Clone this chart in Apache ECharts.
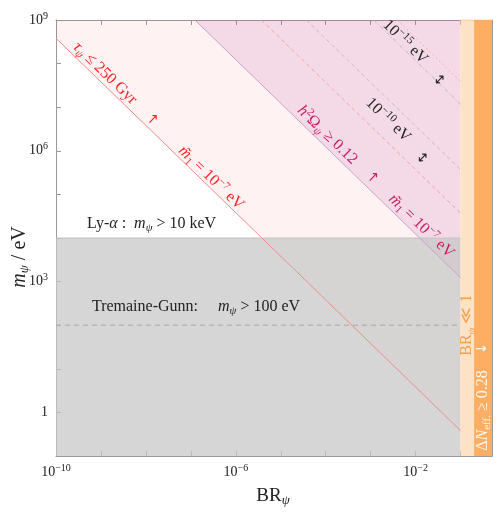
<!DOCTYPE html>
<html>
<head>
<meta charset="utf-8">
<script src="https://cdn.jsdelivr.net/npm/echarts@6/dist/echarts.min.js"></script>
<style>
  html, body { margin: 0; padding: 0; background: #fff; }
  #main { width: 498px; height: 512px; }
</style>
</head>
<body>
<div id="main"></div>
<script>
// boundaries, as [BR_psi, m_psi / eV] end points
const lyAlphaBound = [[1e-10, 1e4], [0.1, 1e4]];
const tremaineGunn = [[1e-10, 100], [0.1, 100]];
const tauBound = [[1e-10, 3.8e8], [0.1, 0.38]];
const relicBound = [[1.23e-7, 1e9], [0.1, 1230]];
const m10RedLine = [[3.7e-6, 1e9], [0.1, 3.7e4]];
const m10PurpleLine = [[3.7e-5, 1e9], [0.1, 3.7e5]];
const m15RedLine = [[3.9e-3, 1e9], [0.1, 3.9e7]];
const m15PurpleLine = [[1.17e-3, 1e9], [0.1, 1.17e7]];
const brSmallBand = [[0.1, 1e9], [0.2, 1e9]];
const nEffBand = [[0.2, 1e9], [0.5, 1e9]];

// axis ticks
const xRange = [1e-10, 0.5];
const yRange = [0.1, 1e9];
const xLabelPowers = [-10, -6, -2];
const yLabelPowers = [0, 3, 6, 9];

const serif = 'Liberation Serif';

const rich = {
  n: { fontFamily: serif, fontSize: 16, lineHeight: 22, verticalAlign: 'middle' },
  i: { fontFamily: serif, fontSize: 16, fontStyle: 'italic', lineHeight: 22, verticalAlign: 'middle' },
  a: { fontFamily: 'DejaVu Sans', fontSize: 14, lineHeight: 22, verticalAlign: 'middle' },
  sup: { fontFamily: serif, fontSize: 11, lineHeight: 11, padding: [0, 0, 9, 0], verticalAlign: 'middle' },
  sub: { fontFamily: serif, fontSize: 11, lineHeight: 11, padding: [9, 0, 0, 0], verticalAlign: 'middle' },
  subi: { fontFamily: serif, fontSize: 11, fontStyle: 'italic', lineHeight: 11, padding: [9, 0, 0, 0], verticalAlign: 'middle' }
};

const tickRich = {
  n: { fontFamily: serif, fontSize: 14, color: '#222', lineHeight: 18 },
  sup: { fontFamily: serif, fontSize: 10, color: '#222', lineHeight: 10, padding: [0, 0, 8, 0] }
};

function powLabel(v, keep) {
  const e = Math.round(Math.log10(v));
  if (keep.indexOf(e) < 0) return '';
  if (e === 0) return '{n|1}';
  return '{n|10}{sup|' + (e < 0 ? '\u2212' + (-e) : e) + '}';
}

function axisBase(pos, range) {
  return {
    type: 'log',
    position: pos,
    min: range[0],
    max: range[1],
    interval: 1,
    axisLine: { show: true, lineStyle: { color: '#9a9a9a', width: 1 } },
    axisTick: { show: true, inside: true, length: 5, lineStyle: { color: '#9a9a9a' } },
    splitLine: { show: false },
    minorTick: { show: false }
  };
}

function lineSeries(data, color, type, width) {
  return {
    type: 'line', data: data, symbol: 'none', silent: true,
    lineStyle: { color: color, type: type, width: width || 1 }
  };
}

function areaSeries(data, origin, fill, stroke) {
  return {
    type: 'line', data: data, symbol: 'none', silent: true,
    lineStyle: { color: stroke || fill, width: stroke ? 1 : 0 },
    areaStyle: { color: fill, opacity: 1, origin: origin }
  };
}

const option = {
  animation: false,
  grid: { left: 56, right: 6, top: 20, bottom: 56 },
  xAxis: [
    Object.assign(axisBase('bottom', xRange), {
      axisLabel: { margin: 7, formatter: v => powLabel(v, xLabelPowers), rich: tickRich }
    }),
    Object.assign(axisBase('top', xRange), { axisLabel: { show: false } })
  ],
  yAxis: [
    Object.assign(axisBase('left', yRange), {
      axisLabel: { margin: 8, formatter: v => powLabel(v, yLabelPowers), rich: tickRich }
    }),
    Object.assign(axisBase('right', yRange), { axisLabel: { show: false } })
  ],
  series: [
    areaSeries(tauBound, 'end', 'rgba(255,0,0,0.05)', '#f28a8a'),
    areaSeries(relicBound, 'end', 'rgba(180,80,160,0.15)', '#c9a0cc'),
    areaSeries(lyAlphaBound, 'start', 'rgba(198,198,198,0.72)', '#c2c2c2'),
    lineSeries(tremaineGunn, '#a8a8a8', [5, 4]),
    lineSeries(m10RedLine, '#f5a0a0', [4, 3]),
    lineSeries(m10PurpleLine, '#cdb2d2', [4, 3]),
    lineSeries(m15RedLine, '#f5a0a0', [1.5, 3]),
    lineSeries(m15PurpleLine, '#c4aec9', [4, 2, 1, 2]),
    areaSeries(brSmallBand, 'start', '#fee2c6', '#fdbf86'),
    areaSeries(nEffBand, 'start', '#fdae63', '#fdae63')
  ]
};

const chart = echarts.init(document.getElementById('main'));
chart.setOption(option);

// annotations: anchor in data space, rotation kind
const notes = [
  { t: '{i|\u03c4}{subi|\u03c8}{n| \u2264 250 Gyr}', at: [1.23e-9, 6.0e7], rot: 'line', c: '#f22' },
  { t: '{a|\u2191}', at: [1.37e-8, 5.08e6], rot: 'line', c: '#f22' },
  { t: '{i|m\u0303}{sub|1}{n| = 10}{sup|\u22127}{n| eV}', at: [2.82e-7, 2.38e5], rot: 'line', c: '#f22' },
  { t: '{i|h}{sup|2}{n|\u03a9}{subi|\u03c8}{n| \u2265 0.12}', at: [1.08e-4, 2.3e6], rot: 'line', c: '#cd1a60' },
  { t: '{a|\u2191}', at: [1.08e-3, 2.38e5], rot: 'line', c: '#cd1a60' },
  { t: '{i|m\u0303}{sub|1}{n| = 10}{sup|\u22127}{n| eV}', at: [1.34e-2, 1.88e4], rot: 'line', c: '#cd1a60' },
  { t: '{n|10}{sup|\u221215}{n| eV}', at: [5.87e-3, 3.13e8], rot: 'line', c: '#222' },
  { t: '{a|\u2194}', at: [3.54e-2, 4.2e7], rot: 'perp', c: '#222' },
  { t: '{n|10}{sup|\u221210}{n| eV}', at: [2.46e-3, 5.08e6], rot: 'line', c: '#222' },
  { t: '{a|\u2194}', at: [1.48e-2, 6.84e5], rot: 'perp', c: '#222' },
  { t: '{n|Ly-}{i|\u03b1}{n| :  }{i|m}{subi|\u03c8}{n| > 10 keV}', at: [4.9e-10, 2.1e4], rot: 'none', c: '#222', align: 'left' },
  { t: '{n|Tremaine-Gunn:     }{i|m}{subi|\u03c8}{n| > 100 eV}', at: [6.3e-10, 261], rot: 'none', c: '#222', align: 'left' },
  { t: '{n|BR}{subi|\u03c8}{n| \u226a 1}', at: [0.141, 100], rot: 'vert', c: '#f7a04a' },
  { t: '{n|\u0394}{i|N}{sub|eff.}{n| \u2265 0.28    }{a|\u2193}', at: [0.305, 2.3], rot: 'vert', c: '#fff6ec' }
];

const toPx = p => chart.convertToPixel({ seriesIndex: 0 }, p);
const p0 = toPx([1e-10, 1e9]);
const p1 = toPx([1e-9, 1e8]);
const lineRot = -Math.atan2(p1[1] - p0[1], p1[0] - p0[0]);
const rotOf = { line: lineRot, perp: lineRot + Math.PI / 2, vert: Math.PI / 2, none: 0 };

const elements = notes.map(n => {
  const p = toPx(n.at);
  return {
    type: 'text', x: p[0], y: p[1], rotation: rotOf[n.rot], silent: true, z: 100,
    style: {
      text: n.t, rich: rich, fill: n.c,
      font: '16px ' + serif,
      align: n.align || 'center', verticalAlign: 'middle',
      textAlign: n.align || 'center', textVerticalAlign: 'middle'
    }
  };
});

// axis titles
elements.push({
  type: 'text', x: 20, y: 257, rotation: Math.PI / 2, silent: true,
  style: {
    text: '{i|m}{subi|\u03c8}{n| / eV}', fill: '#222', font: '18px ' + serif,
    rich: {
      i: { fontFamily: serif, fontSize: 20, fontStyle: 'italic', lineHeight: 24 },
      n: { fontFamily: serif, fontSize: 20, lineHeight: 24 },
      subi: { fontFamily: serif, fontSize: 13, fontStyle: 'italic', lineHeight: 13, padding: [10, 0, 0, 0] }
    },
    align: 'center', verticalAlign: 'middle', textAlign: 'center', textVerticalAlign: 'middle'
  }
});
elements.push({
  type: 'text', x: 273, y: 496, silent: true,
  style: {
    text: '{n|BR}{subi|\u03c8}', fill: '#222', font: '18px ' + serif,
    rich: {
      n: { fontFamily: serif, fontSize: 19, lineHeight: 24 },
      subi: { fontFamily: serif, fontSize: 13, fontStyle: 'italic', lineHeight: 13, padding: [10, 0, 0, 0] }
    },
    align: 'center', verticalAlign: 'middle', textAlign: 'center', textVerticalAlign: 'middle'
  }
});

chart.setOption({ graphic: { elements: elements } });
</script>
</body>
</html>
